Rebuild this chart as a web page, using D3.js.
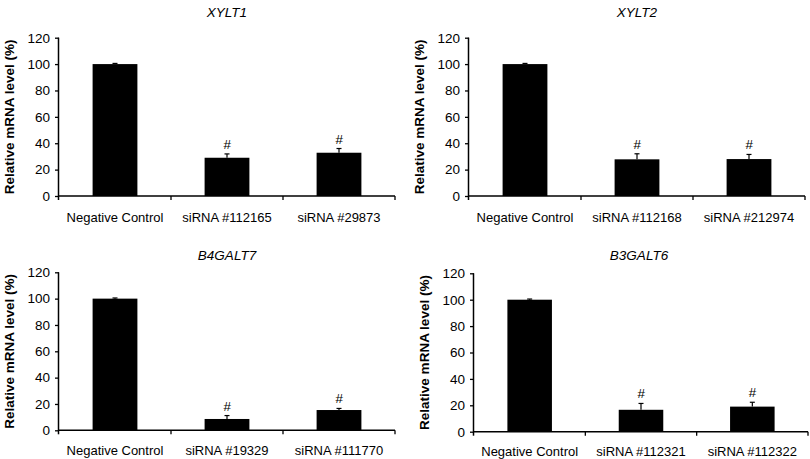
<!DOCTYPE html>
<html>
<head>
<meta charset="utf-8">
<script src="https://cdn.jsdelivr.net/npm/d3@7"></script>
<style>
  html, body { margin: 0; padding: 0; background: #fff; }
  svg { display: block; font-family: Arial, "Liberation Sans", Helvetica, sans-serif; }
</style>
</head>
<body>
<svg id="chart" width="810" height="459"></svg>
<script>
// ---- data ----
const panelTitles = ["XYLT1", "XYLT2", "B4GALT7", "B3GALT6"];
const panelCategories = [
  ["Negative Control", "siRNA #112165", "siRNA #29873"],
  ["Negative Control", "siRNA #112168", "siRNA #212974"],
  ["Negative Control", "siRNA #19329", "siRNA #111770"],
  ["Negative Control", "siRNA #112321", "siRNA #112322"]
];
const panelMeans = [
  [100, 29, 32.8],
  [100, 27.8, 28],
  [100, 8.6, 15.4],
  [100, 16.6, 19]
];
const panelErrors = [
  [0.5, 2.9, 3.2],
  [0.5, 4.2, 3.5],
  [0.5, 2.6, 1.2],
  [0.5, 4.8, 3.3]
];
const panelMarks = [
  ["", "#", "#"],
  ["", "#", "#"],
  ["", "#", "#"],
  ["", "#", "#"]
];
const yTicks = [0, 20, 40, 60, 80, 100, 120];
const yLabel = "Relative mRNA level (%)";

// ---- layout (positions only) ----
const layouts = [
  { x0: 59,  x1: 395, yBottom: 196,   yTop: 37.7,  titleX: 227, titleY: 17,    catY: 222,   labelX: 14 },
  { x0: 469, x1: 805, yBottom: 196,   yTop: 37.7,  titleX: 637, titleY: 17,    catY: 222,   labelX: 424 },
  { x0: 59,  x1: 395, yBottom: 430.3, yTop: 272.3, titleX: 227, titleY: 259.5, catY: 455.5, labelX: 14 },
  { x0: 474, x1: 808, yBottom: 431.7, yTop: 273.3, titleX: 639, titleY: 259.5, catY: 456.5, labelX: 429 }
];

const svg = d3.select("#chart");

layouts.forEach((L, i) => {
  const cats = panelCategories[i];
  const means = panelMeans[i];
  const errs = panelErrors[i];
  const marks = panelMarks[i];

  const x = d3.scaleBand().domain(cats).range([L.x0, L.x1]).padding(0);
  const y = d3.scaleLinear().domain([0, 120]).range([L.yBottom, L.yTop]);
  const g = svg.append("g");

  const barW = x.bandwidth() * 0.4;

  // bars
  g.selectAll("rect.bar").data(cats).join("rect")
    .attr("class", "bar")
    .attr("x", d => x(d) + x.bandwidth() / 2 - barW / 2)
    .attr("width", barW)
    .attr("y", (d, j) => y(means[j]))
    .attr("height", (d, j) => y(0) - y(means[j]))
    .attr("fill", "#000");

  // error bars (upper only)
  cats.forEach((c, j) => {
    const cx = x(c) + x.bandwidth() / 2;
    g.append("line")
      .attr("x1", cx).attr("x2", cx)
      .attr("y1", y(means[j])).attr("y2", y(means[j] + errs[j]))
      .attr("stroke", "#000").attr("stroke-width", 1.2);
    g.append("line")
      .attr("x1", cx - 2.5).attr("x2", cx + 2.5)
      .attr("y1", y(means[j] + errs[j])).attr("y2", y(means[j] + errs[j]))
      .attr("stroke", "#000").attr("stroke-width", 1.2);
    if (marks[j]) {
      g.append("text")
        .attr("x", cx)
        .attr("y", y(means[j] + errs[j]) - 5)
        .attr("text-anchor", "middle")
        .attr("font-size", 13.5)
        .attr("font-style", "italic")
        .text(marks[j]);
    }
  });

  // y axis
  const yAxis = d3.axisLeft(y).tickValues(yTicks).tickSize(4).tickPadding(5);
  const ya = g.append("g").attr("transform", `translate(${L.x0},0)`).call(yAxis);
  ya.select(".domain").attr("stroke-width", 1.5).attr("d", `M-0.5,${L.yTop}V${L.yBottom + 4}`);
  ya.selectAll(".tick line").attr("stroke-width", 1.3);
  ya.selectAll(".tick text").attr("font-size", 13.5).attr("font-family", "Arial, 'Liberation Sans', sans-serif").attr("fill", "#000");

  // x axis: boundary ticks between categories
  const xa = g.append("g").attr("transform", `translate(0,${L.yBottom})`);
  xa.append("line")
    .attr("x1", L.x0).attr("x2", L.x1)
    .attr("y1", 0).attr("y2", 0)
    .attr("stroke", "#000").attr("stroke-width", 1.5);
  const bounds = cats.map(c => x(c)).concat([L.x1]);
  xa.selectAll("line.bt").data(bounds.slice(1)).join("line")
    .attr("class", "bt")
    .attr("x1", d => d).attr("x2", d => d)
    .attr("y1", 0).attr("y2", 4)
    .attr("stroke", "#000").attr("stroke-width", 1.3);
  xa.selectAll("text").data(cats).join("text")
    .attr("x", d => x(d) + x.bandwidth() / 2)
    .attr("y", L.catY - L.yBottom)
    .attr("text-anchor", "middle")
    .attr("font-size", 13)
    .attr("fill", "#000")
    .text(d => d);

  // title
  g.append("text")
    .attr("x", L.titleX).attr("y", L.titleY)
    .attr("text-anchor", "middle")
    .attr("font-size", 13.5)
    .attr("font-style", "italic")
    .text(panelTitles[i]);

  // y label
  g.append("text")
    .attr("transform", `translate(${L.labelX},${(L.yTop + L.yBottom) / 2}) rotate(-90)`)
    .attr("text-anchor", "middle")
    .attr("font-size", 13.5)
    .attr("font-weight", "bold")
    .text(yLabel);
});
</script>
</body>
</html>
